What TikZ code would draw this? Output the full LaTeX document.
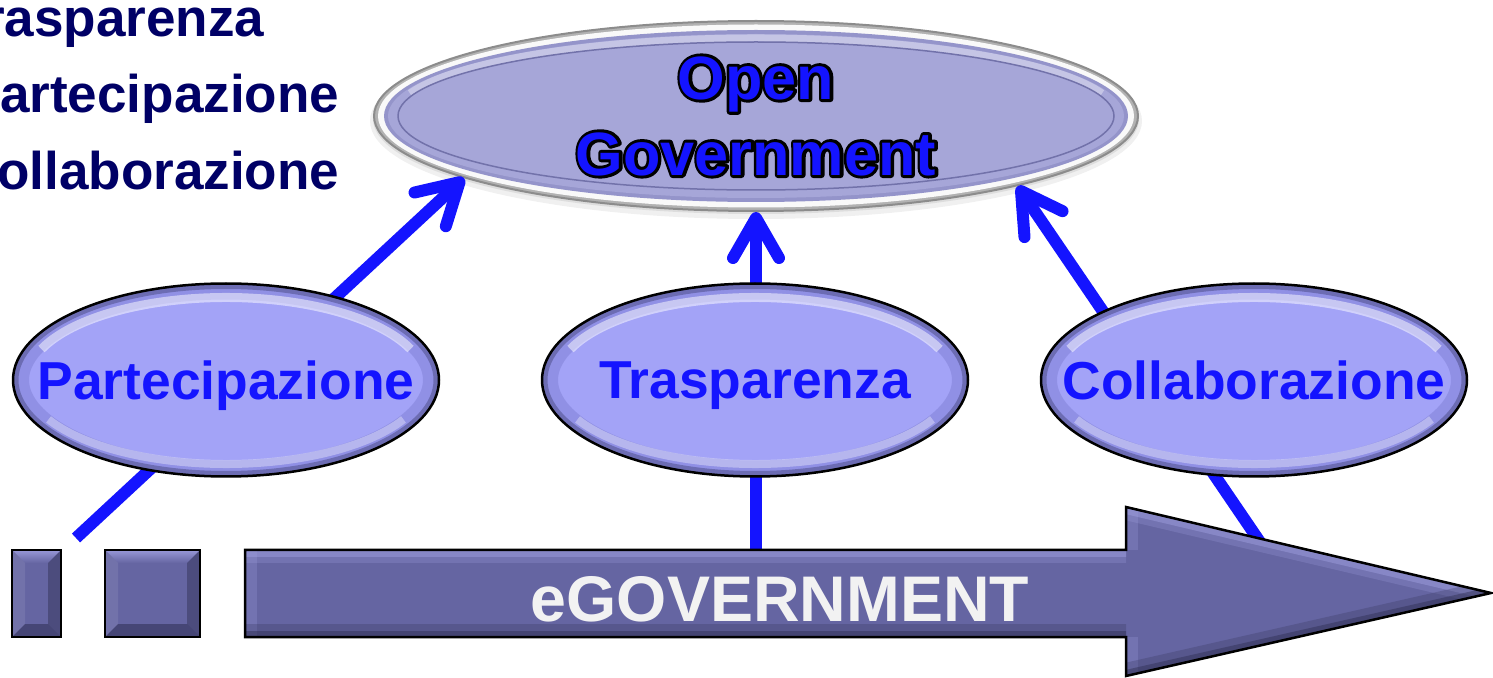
\documentclass[tikz,border=0pt]{standalone}
\usepackage{fontspec}
\setmainfont{Liberation Sans}
\usetikzlibrary{arrows.meta,shapes.geometric}

\definecolor{navytext}{HTML}{000066}
\definecolor{linkblue}{HTML}{1414FF}
\definecolor{ovalfill}{HTML}{A3A3F7}
\definecolor{ovalrim}{HTML}{5A5AB0}
\definecolor{ogfill}{HTML}{A6A6D8}
\definecolor{ogband}{HTML}{9494CA}
\definecolor{ogline}{HTML}{7272AA}
\definecolor{ogring}{HTML}{B2B2B2}
\definecolor{ogedge}{HTML}{8C8C8C}
\definecolor{slate}{HTML}{6565A2}
\definecolor{slatelight}{HTML}{A0A0E0}
\definecolor{slatedark}{HTML}{2E2E52}
\definecolor{egovtext}{HTML}{F2F2F2}

% black stroked copy of the glyphs underneath, the filled text on top
\newcommand\outlinedtext[1]{%
  \rlap{\special{pdf:literal direct 0 0 0 RG 1.7 w 1 j 1 Tr}#1%
    \special{pdf:literal direct 0 Tr}}#1}
\newcommand\ovaltext[1]{\makebox[0pt]{#1}}

\begin{document}
\begin{tikzpicture}[x=0.1mm, y=-0.1mm,
  link/.style={draw=linkblue, line width=1.2mm,
    -{Straight Barb[length=4mm, width=4.6mm, line cap=round, line join=round]}},
  sidetext/.style={anchor=base east, inner sep=0, text=navytext,
    font=\fontsize{15.1}{17}\selectfont\bfseries},
  oval/.style={ellipse, minimum width=4.26cm, minimum height=1.93cm, inner sep=0,
    fill=ovalfill, draw=black, line width=0.25mm, text=linkblue, text depth=0pt,
    font=\fontsize{15.2}{17}\selectfont\bfseries,
    path picture={
      \draw[ovalrim, line width=3.2mm, opacity=.25]
        (path picture bounding box.center) ellipse [x radius=21.3mm, y radius=9.65mm];
      \draw[ovalrim!60!black, line width=1.1mm, opacity=.40]
        (path picture bounding box.center) ellipse [x radius=21.3mm, y radius=9.65mm];
      \draw[white, line width=0.9mm, opacity=.50]
        ([shift={(158:19.9mm and 8.25mm)}]path picture bounding box.center)
        arc[start angle=158, end angle=22, x radius=19.9mm, y radius=8.25mm];
      \draw[white, line width=0.8mm, opacity=.35]
        ([shift={(208:20.1mm and 8.4mm)}]path picture bounding box.center)
        arc[start angle=208, end angle=332, x radius=20.1mm, y radius=8.4mm];
    }},
  ogoval/.style={ellipse, minimum width=7.64cm, minimum height=1.90cm, inner sep=0,
    fill=ogring, draw=ogedge, line width=0.2mm, align=center, text=linkblue,
    font=\fontsize{17.4}{21.6}\selectfont\bfseries,
    path picture={
      \fill[white!95!gray] (path picture bounding box.center)
        ellipse [x radius=37.8mm, y radius=9.15mm];
      \fill[ogband] (path picture bounding box.center)
        ellipse [x radius=37.2mm, y radius=8.6mm];
      \fill[ogfill] (path picture bounding box.center)
        ellipse [x radius=36.8mm, y radius=8.2mm];
      \draw[white, line width=0.7mm, opacity=.35]
        ([shift={(163:36.2mm and 7.8mm)}]path picture bounding box.center)
        arc[start angle=163, end angle=17, x radius=36.2mm, y radius=7.8mm];
      \draw[ogline, line width=0.15mm] (path picture bounding box.center)
        ellipse [x radius=35.8mm, y radius=7.4mm];
    }},
  blockedge/.style={draw=black, line width=0.25mm},
  egovlabel/.style={anchor=base, inner sep=0, text=egovtext,
    font=\fontsize{18.35}{22}\selectfont\bfseries}
]
\useasboundingbox (0,0) rectangle (1493,678);
\clip (0,0) rectangle (1493,678);

% list of the three principles, partly outside the frame on the left
\node[sidetext] (tl1) at (265,37) {Trasparenza};
\node[sidetext] (tl2) at (340,113) {Partecipazione};
\node[sidetext] (tl3) at (340,190) {Collaborazione};

% soft shadow under the Open Government oval
\fill[black, opacity=.06] (756,121) ellipse [x radius=386, y radius=98];
\fill[black, opacity=.08] (756,119) ellipse [x radius=383, y radius=95];

% Open Government oval
\node[ogoval] (og) at (756,116)
  {\outlinedtext{Open}\\\outlinedtext{Government}};

% free ends of the connectors
\coordinate (pfree) at (76,538);
\coordinate (egovtop) at (756,552);
\coordinate (cfree) at (1262,545);

% connectors towards Open Government
\draw[link] (pfree) -- (og.192.5);
\draw[link] (egovtop) -- (og.south);
\draw[link] (cfree) -- (og.345.7);

% the three principle ovals
\node[oval] (part) at (226,380) {\ovaltext{Partecipazione}};
\node[oval] (trasp) at (755,380) {\ovaltext{Trasparenza}};
\node[oval] (coll) at (1254,380) {\ovaltext{Collaborazione}};

% bevelled blocks on the left
\foreach \xa/\xb in {12/61, 105/200} {
  \fill[slate] (\xa,550) rectangle (\xb,637);
  \shade[top color=slatelight!85!slate, bottom color=slate]
    (\xa,550) -- (\xb,550) -- (\xb-13,563) -- (\xa+13,563) -- cycle;
  \fill[slate!85!white, opacity=.6]
    (\xa,550) -- (\xa+13,563) -- (\xa+13,624) -- (\xa,637) -- cycle;
  \fill[slatedark, opacity=.45]
    (\xb,550) -- (\xb,637) -- (\xb-13,624) -- (\xb-13,563) -- cycle;
  \fill[slatedark, opacity=.55]
    (\xa,637) -- (\xb,637) -- (\xb-13,624) -- (\xa+13,624) -- cycle;
  \draw[blockedge] (\xa,550) rectangle (\xb,637);
}

% the eGOVERNMENT arrow
\fill[slate] (245,550) -- (1126,550) -- (1126,507) -- (1491,593) -- (1126,676)
  -- (1126,637) -- (245,637) -- cycle;
\begin{scope}
  \clip (245,550) -- (1126,550) -- (1126,507) -- (1491,593) -- (1126,676)
    -- (1126,637) -- (245,637) -- cycle;
  \draw[slatelight, line width=2.6mm, opacity=.25]
    (245,550) -- (1126,550) (1126,507) -- (1491,593);
  \draw[slatelight, line width=1.4mm, opacity=.45]
    (245,550) -- (1126,550) (1126,507) -- (1491,593);
  \draw[slatelight, line width=2.4mm, opacity=.25]
    (245,550) -- (245,637) (1126,507) -- (1126,550) (1126,637) -- (1126,676);
  \draw[slatedark, line width=2.6mm, opacity=.25]
    (1491,593) -- (1126,676) (1126,637) -- (245,637);
  \draw[slatedark, line width=1.2mm, opacity=.45]
    (1491,593) -- (1126,676) (1126,637) -- (245,637);
\end{scope}
\draw[blockedge, line join=miter] (245,550) -- (1126,550) -- (1126,507) -- (1491,593)
  -- (1126,676) -- (1126,637) -- (245,637) -- cycle;
\node[egovlabel] (egov) at (780,621) {eGOVERNMENT};
\end{tikzpicture}
\end{document}
